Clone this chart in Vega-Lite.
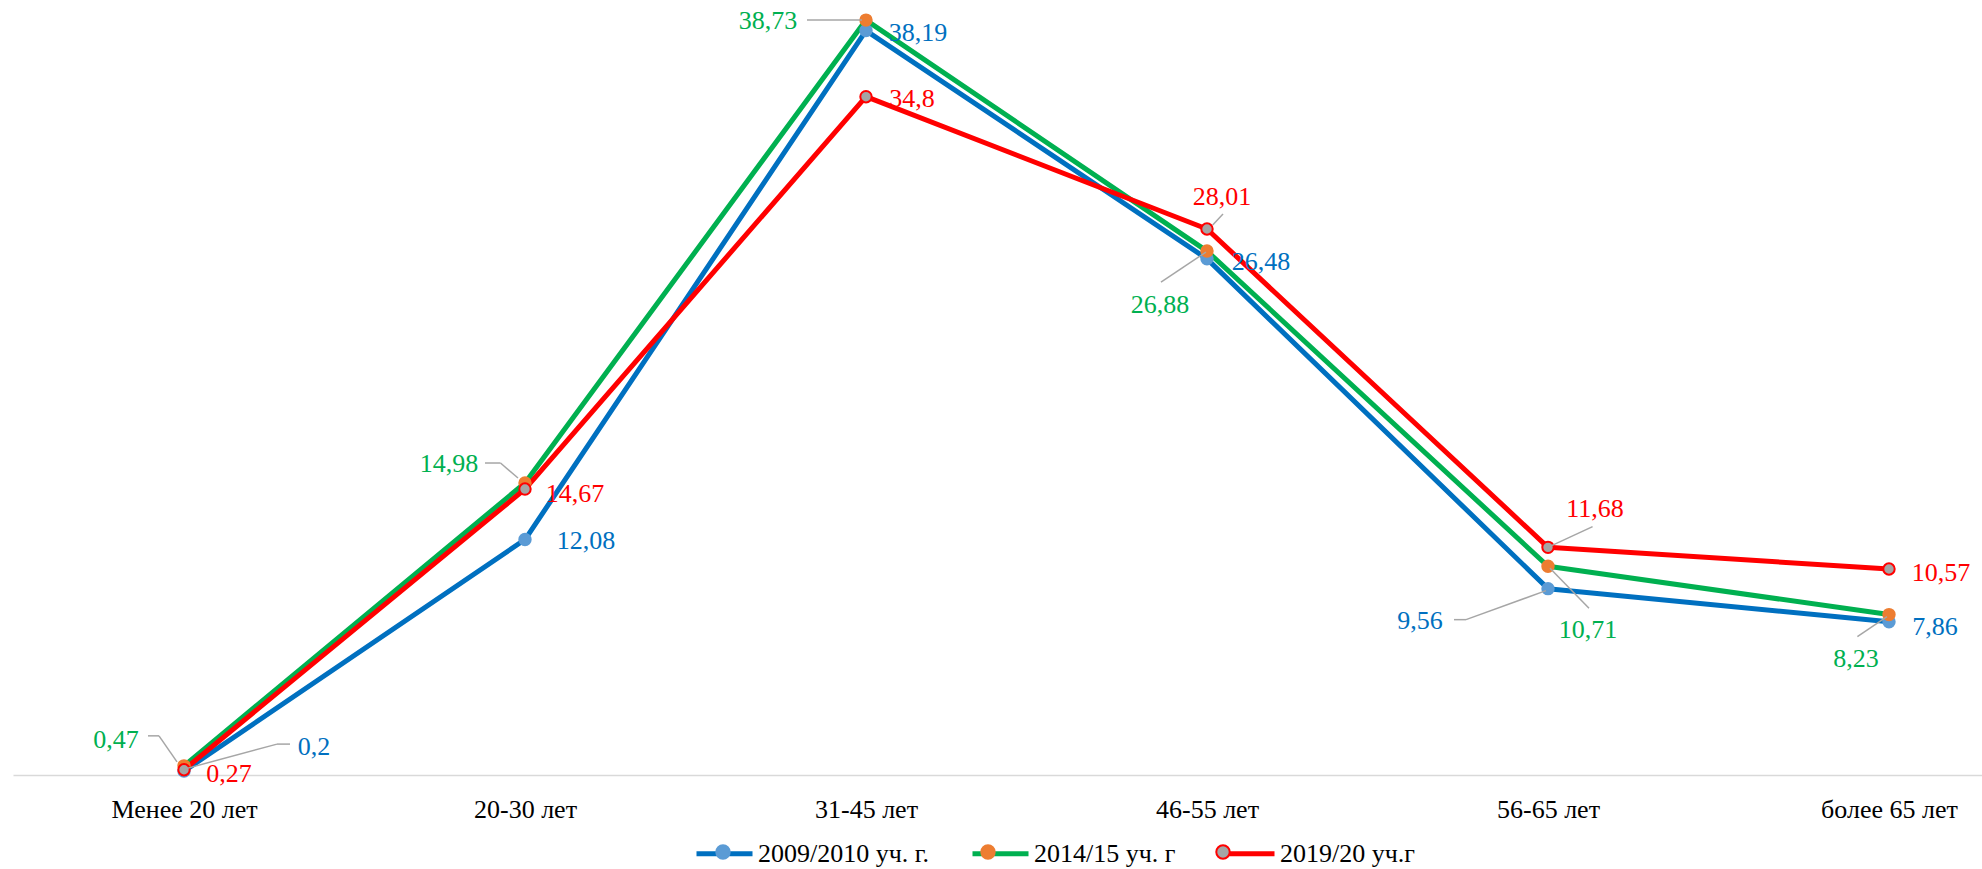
{
  "$schema": "https://vega.github.io/schema/vega-lite/v6.json",
  "width": 1969,
  "height": 775,
  "autosize": {"type": "none"},
  "padding": {"left": 13, "top": 0, "right": 0, "bottom": 94},
  "background": "white",
  "config": {
    "view": {"stroke": null},
    "locale": {"number": {"decimal": ",", "thousands": " ", "grouping": [3], "currency": ["", ""]}},
    "legend": {
      "labelFont": "Liberation Serif",
      "labelFontSize": 26,
      "labelColor": "#000000",
      "labelLimit": 500,
      "labelOffset": 3,
      "columnPadding": 32,
      "symbolSize": 3136,
      "padding": 0,
      "symbolOpacity": 1
    }
  },
  "params": [
    {"name": "cats", "value": ["Менее 20 лет", "20-30 лет", "31-45 лет", "46-55 лет", "56-65 лет", "более 65 лет"]},
    {"name": "sers", "value": ["2009/2010 уч. г.", "2014/15 уч. г", "2019/20 уч.г"]}
  ],
  "data": {
    "values": [
      {"cat": "Менее 20 лет", "series": "2009/2010 уч. г.", "v": 0.2},
      {"cat": "20-30 лет", "series": "2009/2010 уч. г.", "v": 12.08},
      {"cat": "31-45 лет", "series": "2009/2010 уч. г.", "v": 38.19},
      {"cat": "46-55 лет", "series": "2009/2010 уч. г.", "v": 26.48},
      {"cat": "56-65 лет", "series": "2009/2010 уч. г.", "v": 9.56},
      {"cat": "более 65 лет", "series": "2009/2010 уч. г.", "v": 7.86},
      {"cat": "Менее 20 лет", "series": "2014/15 уч. г", "v": 0.47},
      {"cat": "20-30 лет", "series": "2014/15 уч. г", "v": 14.98},
      {"cat": "31-45 лет", "series": "2014/15 уч. г", "v": 38.73},
      {"cat": "46-55 лет", "series": "2014/15 уч. г", "v": 26.88},
      {"cat": "56-65 лет", "series": "2014/15 уч. г", "v": 10.71},
      {"cat": "более 65 лет", "series": "2014/15 уч. г", "v": 8.23},
      {"cat": "Менее 20 лет", "series": "2019/20 уч.г", "v": 0.27},
      {"cat": "20-30 лет", "series": "2019/20 уч.г", "v": 14.67},
      {"cat": "31-45 лет", "series": "2019/20 уч.г", "v": 34.8},
      {"cat": "46-55 лет", "series": "2019/20 уч.г", "v": 28.01},
      {"cat": "56-65 лет", "series": "2019/20 уч.г", "v": 11.68},
      {"cat": "более 65 лет", "series": "2019/20 уч.г", "v": 10.57}
    ]
  },
  "encoding": {
    "x": {
      "field": "cat",
      "type": "ordinal",
      "scale": {
        "type": "point",
        "domain": ["Менее 20 лет", "20-30 лет", "31-45 лет", "46-55 лет", "56-65 лет", "более 65 лет"],
        "padding": 0.3871,
        "align": 0.6477
      },
      "axis": {
        "title": null,
        "ticks": false,
        "grid": false,
        "domainColor": "#D9D9D9",
        "domainWidth": 1.5,
        "labelFont": "Liberation Serif",
        "labelFontSize": 26,
        "labelColor": "#000000",
        "labelPadding": 21,
        "labelAngle": 0
      }
    },
    "y": {
      "field": "v",
      "type": "quantitative",
      "scale": {"domain": [0, 39.76], "nice": false, "zero": true},
      "axis": null
    }
  },
  "layer": [
    {
      "mark": {"type": "line", "strokeWidth": 5, "strokeJoin": "round", "strokeCap": "round"},
      "encoding": {
        "color": {
          "field": "series",
          "type": "nominal",
          "scale": {"range": ["#0070C0", "#00B050", "#FF0000"]},
          "legend": {
            "title": null,
            "orient": "none",
            "legendX": 681,
            "legendY": 823,
            "direction": "horizontal",
            "columns": 3,
            "symbolType": "M-1,0H1",
            "symbolStrokeWidth": 5
          }
        }
      }
    },
    {
      "mark": {"type": "point", "shape": "circle", "filled": true, "size": 130, "strokeWidth": 2, "opacity": 1},
      "encoding": {
        "fill": {
          "field": "series",
          "type": "nominal",
          "scale": {
            "domain": ["2009/2010 уч. г.", "2014/15 уч. г", "2019/20 уч.г"],
            "range": ["#5B9BD5", "#ED7D31", "#A5A5A5"]
          },
          "legend": {
            "title": null,
            "orient": "none",
            "legendX": 681,
            "legendY": 823,
            "direction": "horizontal",
            "columns": 3,
            "symbolType": "M-0.24,0A0.24,0.24,0,1,1,0.24,0A0.24,0.24,0,1,1,-0.24,0Z",
            "labelOpacity": 0,
            "encode": {
              "symbols": {
                "update": {
                  "stroke": {"scale": "stroke", "field": "value"},
                  "strokeWidth": {"value": 2}
                }
              }
            }
          }
        },
        "stroke": {
          "field": "series",
          "type": "nominal",
          "scale": {"range": ["#5B9BD5", "#ED7D31", "#FF0000"]},
          "legend": null
        }
      }
    },
    {
      "transform": [
        {"filter": "[1,0,0,0,1,0, 1,1,1,1,1,1, 0,0,0,1,1,0][indexof(sers,datum.series)*6+indexof(cats,datum.cat)] == 1"}
      ],
      "mark": {
        "type": "rule",
        "color": "#A6A6A6",
        "strokeWidth": 1.5,
        "xOffset": {"expr": "[4,0,0,0,-2,0, -7,-7,-4,-1,2,-2, 0,0,0,5.7,2,0][indexof(sers,datum.series)*6+indexof(cats,datum.cat)]"},
        "yOffset": {"expr": "[-3,0,0,0,2,0, -4,-5,0,1,2,2, 0,0,0,-4,-1,0][indexof(sers,datum.series)*6+indexof(cats,datum.cat)]"},
        "x2Offset": {"expr": "[93,0,0,0,-82,0, -25,-24.5,-59,-46,41,-31.6, 0,0,0,16,44.6,0][indexof(sers,datum.series)*6+indexof(cats,datum.cat)]"},
        "y2Offset": {"expr": "[-27,0,0,0,31,0, -30,-20,0,31,42,22, 0,0,0,-15,-20.7,0][indexof(sers,datum.series)*6+indexof(cats,datum.cat)]"}
      },
      "encoding": {
        "x2": {"field": "cat"},
        "y2": {"field": "v"}
      }
    },
    {
      "transform": [
        {"filter": "[1,0,0,0,1,0, 1,1,0,0,0,0, 0,0,0,0,0,0][indexof(sers,datum.series)*6+indexof(cats,datum.cat)] == 1"}
      ],
      "mark": {
        "type": "rule",
        "color": "#A6A6A6",
        "strokeWidth": 1.5,
        "xOffset": {"expr": "[93,0,0,0,-82,0, -25,-24.5,0,0,0,0, 0,0,0,0,0,0][indexof(sers,datum.series)*6+indexof(cats,datum.cat)]"},
        "yOffset": {"expr": "[-27,0,0,0,31,0, -30,-20,0,0,0,0, 0,0,0,0,0,0][indexof(sers,datum.series)*6+indexof(cats,datum.cat)]"},
        "x2Offset": {"expr": "[106,0,0,0,-94,0, -36,-40,0,0,0,0, 0,0,0,0,0,0][indexof(sers,datum.series)*6+indexof(cats,datum.cat)]"},
        "y2Offset": {"expr": "[-27,0,0,0,31,0, -30,-20,0,0,0,0, 0,0,0,0,0,0][indexof(sers,datum.series)*6+indexof(cats,datum.cat)]"}
      },
      "encoding": {
        "x2": {"field": "cat"},
        "y2": {"field": "v"}
      }
    },
    {
      "mark": {
        "type": "text",
        "font": "Liberation Serif",
        "fontSize": 26,
        "align": "center",
        "baseline": "middle",
        "dx": {"expr": "[130,61,52,54,-128,46, -68,-76,-98,-47,40,-33, 45,50,46,15,47,52][indexof(sers,datum.series)*6+indexof(cats,datum.cat)]"},
        "dy": {"expr": "[-24,1,2,3,32,5, -26,-19,1,54,64,44, 4,5,2,-32,-38,4][indexof(sers,datum.series)*6+indexof(cats,datum.cat)]"}
      },
      "encoding": {
        "text": {"field": "v", "type": "quantitative", "format": "~g"},
        "color": {
          "field": "series",
          "type": "nominal",
          "legend": {
            "title": null,
            "orient": "none",
            "legendX": 681,
            "legendY": 823,
            "direction": "horizontal",
            "columns": 3,
            "symbolType": "M-1,0H1",
            "symbolStrokeWidth": 5
          }
        }
      }
    }
  ]
}
